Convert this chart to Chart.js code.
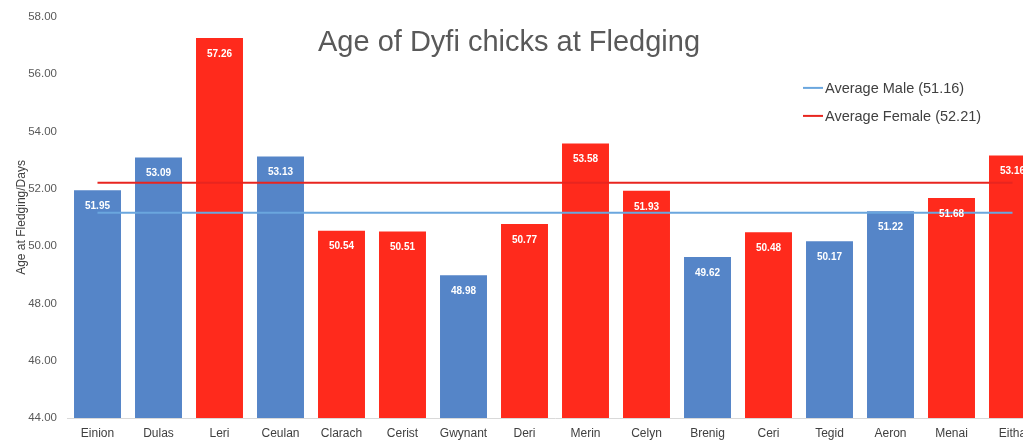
<!DOCTYPE html>
<html>
<head>
<meta charset="utf-8">
<script src="https://cdn.jsdelivr.net/npm/chart.js@4"></script>
<style>
  html, body { margin: 0; padding: 0; overflow: hidden; background: #fff; }
  #wrap { width: 1050px; height: 445px; }
</style>
</head>
<body>
<div id="wrap"><canvas id="myChart" width="1050" height="445"></canvas></div>
<script>
// chicks in order, and their fledging age in days
const chicks = ["Einion", "Dulas", "Leri", "Ceulan", "Clarach", "Cerist", "Gwynant", "Deri",
  "Merin", "Celyn", "Brenig", "Ceri", "Tegid", "Aeron", "Menai", "Eitha"];
const ages = [51.95, 53.09, 57.26, 53.13, 50.54, 50.51, 48.98, 50.77,
  53.58, 51.93, 49.62, 50.48, 50.17, 51.22, 51.68, 53.16];
const sexes = ["M", "M", "F", "M", "F", "F", "M", "F", "F", "F", "M", "F", "M", "M", "F", "F"];
const avgMale = 51.16;
const avgFemale = 52.21;
const yTicks = [44, 46, 48, 50, 52, 54, 56, 58];

const BLUE = "#5585c8";
const RED = "#ff2a1c";
const font = "'Liberation Sans', Arial, sans-serif";

var barColors = sexes.map(s => s === "M" ? BLUE : RED);
var first = chicks[0];
var last = chicks[chicks.length - 1];

// white value on each bar, a little under its top
const barLabels = {
  id: "barLabels",
  afterDatasetsDraw(chart) {
    const ctx = chart.ctx;
    const meta = chart.getDatasetMeta(2);
    ctx.save();
    ctx.fillStyle = "#fff";
    ctx.font = "bold 10px " + font;
    ctx.textAlign = "center";
    ctx.textBaseline = "middle";
    meta.data.forEach((bar, i) => {
      ctx.fillText(ages[i].toFixed(2), bar.x, bar.y + 16);
    });
    ctx.restore();
  }
};

// title and legend sit inside the plot area
const overlay = {
  id: "overlay",
  afterDraw(chart) {
    const ctx = chart.ctx;
    const area = chart.chartArea;
    ctx.save();
    ctx.fillStyle = "#595959";
    ctx.font = "29px " + font;
    ctx.textAlign = "center";
    ctx.textBaseline = "middle";
    ctx.fillText("Age of Dyfi chicks at Fledging", 509, area.top + 26);

    const items = [["Average Male (" + avgMale.toFixed(2) + ")", "#6aa6de"],
                   ["Average Female (" + avgFemale.toFixed(2) + ")", "#e8251f"]];
    ctx.font = "14.5px " + font;
    ctx.textAlign = "left";
    items.forEach((it, i) => {
      var y = area.top + 71 + i * 28;
      ctx.strokeStyle = it[1];
      ctx.lineWidth = 2;
      ctx.beginPath();
      ctx.moveTo(803, y);
      ctx.lineTo(823, y);
      ctx.stroke();
      ctx.fillStyle = "#404040";
      ctx.fillText(it[0], 825, y + 1);
    });
    ctx.restore();
  }
};

const ctx = document.getElementById("myChart");
new Chart(ctx, {
  data: {
    labels: chicks,
    datasets: [
      {
        type: "line",
        label: "Average Male",
        data: [{ x: first, y: avgMale }, { x: last, y: avgMale }],
        borderColor: "#6aa6de",
        borderWidth: 2,
        pointRadius: 0,
        order: 0
      },
      {
        type: "line",
        label: "Average Female",
        data: [{ x: first, y: avgFemale }, { x: last, y: avgFemale }],
        borderColor: "#e8251f",
        borderWidth: 2,
        pointRadius: 0,
        order: 0
      },
      {
        type: "bar",
        label: "Age",
        data: ages,
        backgroundColor: barColors,
        categoryPercentage: 1,
        barPercentage: 0.77,
        order: 2
      }
    ]
  },
  options: {
    responsive: false,
    animation: false,
    layout: { padding: { top: 16, right: 7, left: 0, bottom: 0 } },
    plugins: {
      legend: { display: false },
      tooltip: { enabled: false }
    },
    scales: {
      x: {
        grid: { display: false, drawTicks: false },
        border: { color: "#d9d9d9", width: 1 },
        ticks: { color: "#404040", font: { family: font, size: 12 }, padding: 8, maxRotation: 0, autoSkip: false },
        afterFit(scale) { scale.height = 27; }
      },
      y: {
        min: 44,
        max: 58,
        afterBuildTicks(scale) { scale.ticks = yTicks.map(v => ({ value: v })); },
        grid: { display: false, drawTicks: false },
        border: { display: false },
        ticks: {
          color: "#595959",
          font: { family: font, size: 11.5 },
          padding: 10,
          callback: v => v.toFixed(2)
        },
        title: {
          display: true,
          text: "Age at Fledging/Days",
          color: "#404040",
          font: { family: font, size: 12 },
          padding: { top: 14, bottom: 2 }
        },
        afterFit(scale) { scale.width = 67; }
      }
    }
  },
  plugins: [barLabels, overlay]
});
</script>
</body>
</html>
